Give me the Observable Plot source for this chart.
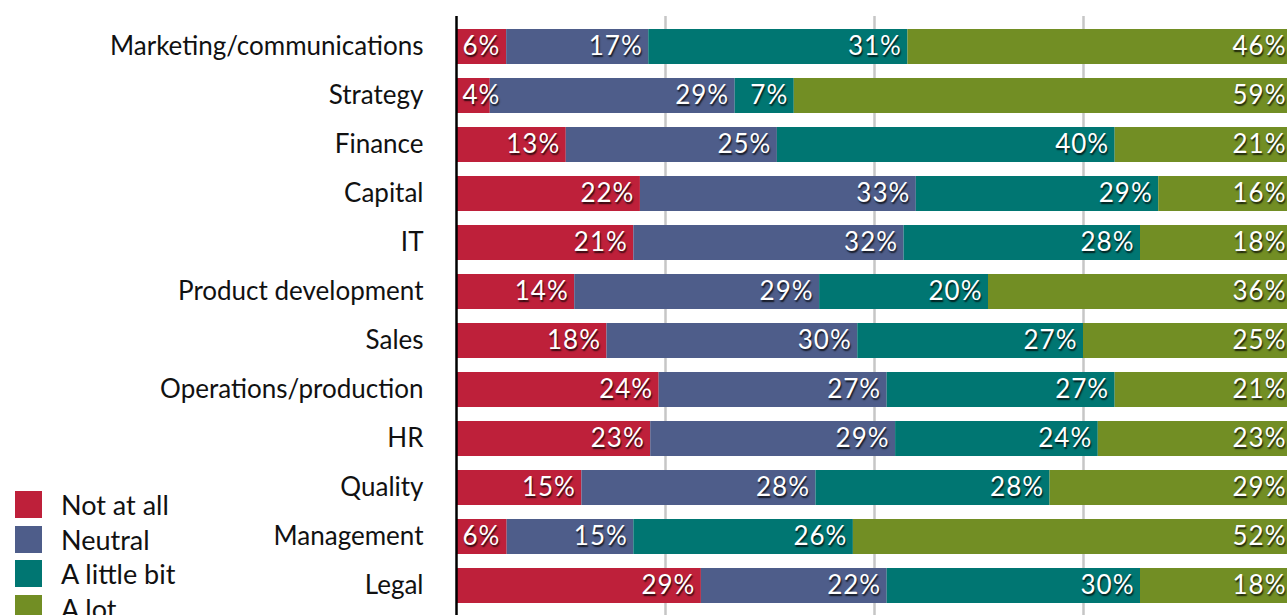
<!DOCTYPE html>
<html>
<head>
<meta charset="utf-8">
<script src="https://cdn.jsdelivr.net/npm/d3@7"></script>
<script src="https://cdn.jsdelivr.net/npm/@observablehq/plot@0.6"></script>
<style>
  html, body { margin: 0; padding: 0; background: #fff; overflow: hidden; }
  #wrap { position: relative; width: 1287px; height: 615px; font-family: Lato, "Open Sans", sans-serif; }
  #chart svg { display: block; overflow: hidden; }
  g[aria-label="text"] text { text-shadow: 1px 1.5px 1.5px rgba(0,0,0,0.75); letter-spacing: 1px; }
  #legend { position: absolute; left: 15px; top: 487px; font-size: 27px; color: #111; }
  #legend .row { display: flex; align-items: center; height: 34.7px; }
  #legend .sw { width: 27px; height: 27px; margin-right: 19px; flex: none; }
</style>
</head>
<body>
<div id="wrap">
  <div id="chart"></div>
  <div id="legend"></div>
</div>
<script>
const categories = ["Marketing/communications", "Strategy", "Finance", "Capital", "IT", "Product development", "Sales", "Operations/production", "HR", "Quality", "Management", "Legal"];
const responses = ["Not at all", "Neutral", "A little bit", "A lot"];
const colors = ["#BE203A", "#4E5D8A", "#007672", "#728E24"];
const notAtAll  = [6, 4, 13, 22, 21, 14, 18, 24, 23, 15, 6, 29];
const neutral   = [17, 29, 25, 33, 32, 29, 30, 27, 29, 28, 15, 22];
const littleBit = [31, 7, 40, 29, 28, 20, 27, 27, 24, 28, 26, 30];
const aLot      = [46, 59, 21, 16, 18, 36, 25, 21, 23, 29, 52, 18];
const gridTicks = [0.25, 0.5, 0.75];

const series = [notAtAll, neutral, littleBit, aLot];
const data = [];
categories.forEach((c, i) => {
  responses.forEach((r, j) => data.push({category: c, response: r, value: series[j][i]}));
});

const stackOpts = {x: "value", y: "category", z: "response", offset: "normalize", order: responses};
// narrow first segments: label starts just inside the bar instead of ending at the segment end
const isNarrowFirst = d => d.response === responses[0] && d.value < 8;

const chart = Plot.plot({
  width: 1287,
  height: 615,
  marginTop: 16,
  marginBottom: 0,
  marginLeft: 456,
  marginRight: -5,
  style: {fontFamily: "Lato, 'Open Sans', sans-serif", background: "#fff"},
  x: {domain: [0, 1], axis: null},
  y: {domain: categories, paddingInner: 0.29, paddingOuter: 0.2, label: null},
  color: {domain: responses, range: colors},
  marks: [
    Plot.ruleX(gridTicks, {stroke: "#c6c6c6", strokeWidth: 2.5}),
    Plot.barX(data, Plot.stackX({...stackOpts, fill: "response"})),
    Plot.text(data, Plot.stackX2({...stackOpts, text: d => isNarrowFirst(d) ? null : d.value + "%", textAnchor: "end", dx: -6, fill: "white", fontSize: 26})),
    Plot.text(data, Plot.stackX1({...stackOpts, text: d => isNarrowFirst(d) ? d.value + "%" : null, textAnchor: "start", dx: 6, fill: "white", fontSize: 26})),
    Plot.ruleX([0], {stroke: "#000", strokeWidth: 2.5}),
    Plot.axisY({tickSize: 0, tickPadding: 33, fontSize: 26, fill: "#111", label: null})
  ]
});
document.getElementById("chart").appendChild(chart);

const legend = document.getElementById("legend");
responses.forEach((r, i) => {
  const row = document.createElement("div");
  row.className = "row";
  const sw = document.createElement("span");
  sw.className = "sw";
  sw.style.background = colors[i];
  const t = document.createElement("span");
  t.textContent = r;
  row.appendChild(sw);
  row.appendChild(t);
  legend.appendChild(row);
});
</script>
</body>
</html>
